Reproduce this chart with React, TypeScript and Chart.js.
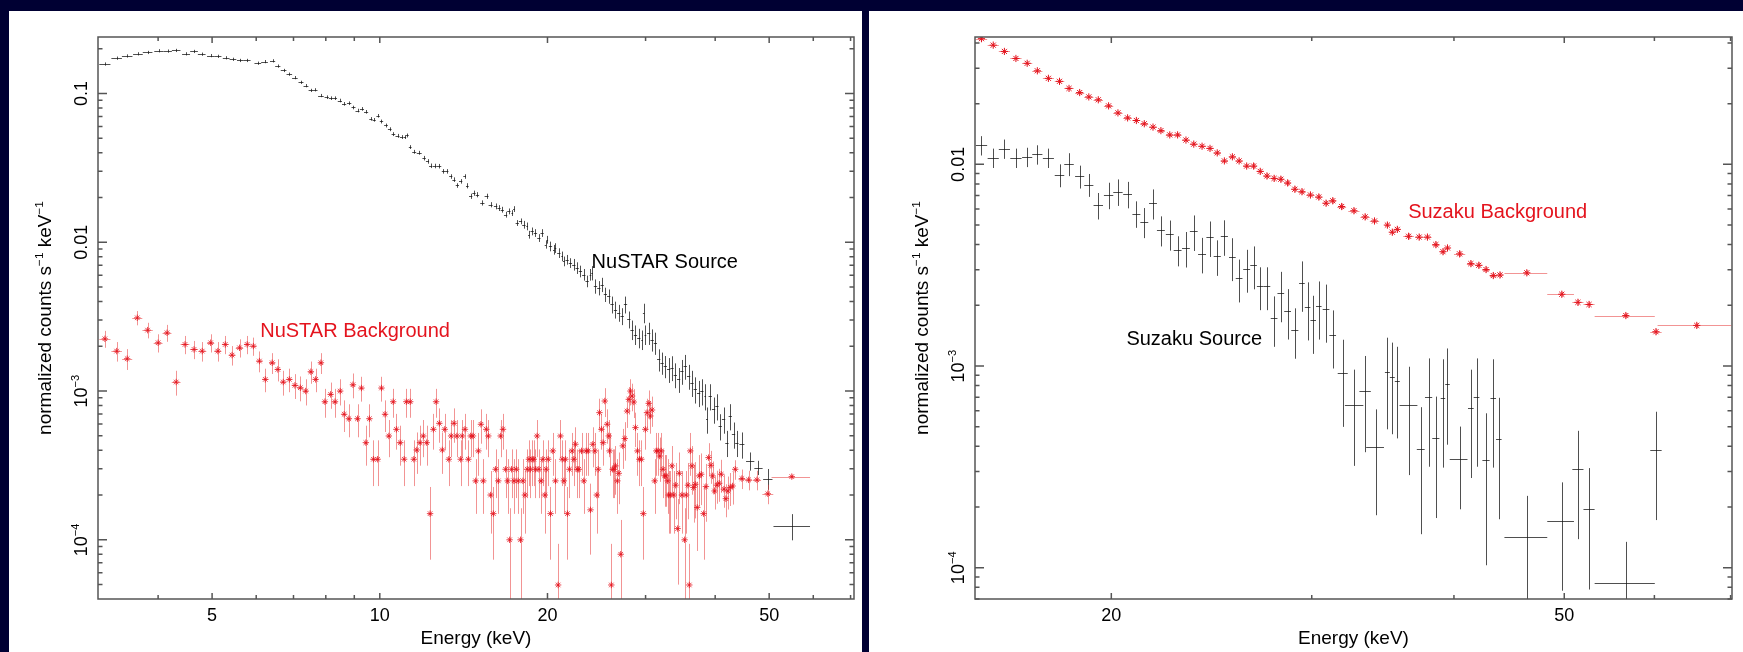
import React, { useEffect, useRef } from 'react';
import { Chart, registerables } from 'chart.js';

Chart.register(...registerables);

// ---------------- NuSTAR source (black) ----------------
const nustarSrcEnergy = [
  3.21, 3.37, 3.52, 3.68, 3.83, 4.01, 4.16, 4.31, 4.49, 4.64,
  4.79, 4.97, 5.12, 5.30, 5.45, 5.62, 5.78, 6.04, 6.21, 6.42,
  6.56, 6.72, 6.88, 7.04, 7.22, 7.37, 7.52, 7.66, 7.84, 8.03,
  8.17, 8.31, 8.48, 8.63, 8.81, 8.97, 9.12, 9.29, 9.45, 9.64,
  9.77, 9.93, 10.07, 10.26, 10.42, 10.58, 10.76, 10.94, 11.09, 11.21,
  11.34, 11.53, 11.77, 12.01, 12.18, 12.34, 12.55, 12.78, 13.01, 13.19,
  13.41, 13.59, 13.78, 13.97, 14.20, 14.36, 14.56, 14.76, 14.97, 15.28,
  15.55, 15.81,
  16.14, 16.37, 16.59, 16.82, 17.05, 17.29, 17.41, 17.65, 17.89, 18.14,
  18.39, 18.52, 18.77, 19.03, 19.30, 19.56, 19.84, 19.98, 20.25, 20.53,
  20.67, 20.96, 21.25, 21.40, 21.69, 21.99, 22.30, 22.61, 22.92, 23.24,
  23.56, 23.89, 24.05, 24.39, 24.73, 25.07, 25.41, 25.76, 26.12, 26.49,
  26.85, 27.23, 27.61, 27.99, 28.37, 28.77, 29.17, 29.57, 29.77, 29.98,
  30.39, 30.82, 31.24, 31.67, 32.11, 32.55, 33.00, 33.46, 33.92, 34.39,
  34.86, 35.35, 35.84, 36.34, 36.84, 37.35, 37.86, 38.39, 38.65, 39.19,
  39.73, 40.29, 40.84, 41.41, 41.99, 42.57, 43.15, 43.75, 44.67, 46.23,
  47.84, 49.72,
];
const nustarSrcValue = [
  0.158, 0.173, 0.179, 0.185, 0.189, 0.194, 0.193, 0.195, 0.185, 0.192,
  0.184, 0.180, 0.178, 0.174, 0.170, 0.167, 0.167, 0.160, 0.164, 0.166,
  0.153, 0.143, 0.135, 0.128, 0.119, 0.113, 0.105, 0.106, 0.097, 0.0945,
  0.0931, 0.0931, 0.0898, 0.0853, 0.0861, 0.0806, 0.0769, 0.0789, 0.0754, 0.0676,
  0.0666, 0.0709, 0.0649, 0.0610, 0.0576, 0.0534, 0.0520, 0.0510, 0.0510, 0.0523,
  0.0437, 0.0406, 0.0400, 0.0368, 0.0350, 0.0327, 0.0326, 0.0325, 0.0300, 0.0300,
  0.0277, 0.0264, 0.0241, 0.0257, 0.0277, 0.0240, 0.0204, 0.0214, 0.0209, 0.0184,
  0.0204, 0.0179,
  0.01745, 0.0170, 0.01658, 0.01535, 0.01615, 0.01574, 0.01674, 0.01349, 0.01384, 0.01314,
  0.01281, 0.01126, 0.01186, 0.01156, 0.01070, 0.01156, 0.00965, 0.01042, 0.00940, 0.00893,
  0.00917, 0.00848, 0.00806, 0.00746, 0.00765, 0.00727, 0.00709, 0.00673, 0.00639, 0.00607,
  0.00548, 0.00607, 0.00623, 0.00507, 0.00494, 0.00520, 0.00446, 0.00434, 0.00382, 0.00353,
  0.00336, 0.00319, 0.00382, 0.00303, 0.00259, 0.00240, 0.00228, 0.00222, 0.00336, 0.00240,
  0.00246, 0.00222, 0.00211, 0.00163, 0.00155, 0.00147, 0.00140, 0.00144, 0.00129, 0.00120,
  0.00136, 0.00147, 0.00126, 0.00114, 0.00103, 0.000975, 0.00100, 0.000926, 0.000646, 0.000926,
  0.000754, 0.000793, 0.000582, 0.000646, 0.000450, 0.000680, 0.000512, 0.000450, 0.000439, 0.000339,
  0.000306, 0.000258,
];
const nustarSrcRelErr = [
  0.025, 0.025, 0.025, 0.025, 0.025, 0.025, 0.025, 0.025, 0.025, 0.025,
  0.025, 0.025, 0.025, 0.025, 0.025, 0.025, 0.025, 0.025, 0.025, 0.025,
  0.025, 0.025, 0.025, 0.025, 0.025, 0.025, 0.025, 0.025, 0.025, 0.028,
  0.028, 0.028, 0.028, 0.028, 0.028, 0.028, 0.028, 0.028, 0.028, 0.028,
  0.028, 0.028, 0.03, 0.03, 0.03, 0.03, 0.03, 0.03, 0.03, 0.03,
  0.03, 0.03, 0.03, 0.035, 0.035, 0.035, 0.035, 0.035, 0.035, 0.035,
  0.035, 0.035, 0.035, 0.035, 0.035, 0.04, 0.04, 0.04, 0.04, 0.04,
  0.04, 0.04,
  0.045, 0.045, 0.045, 0.045, 0.045, 0.045, 0.045, 0.045, 0.045, 0.06,
  0.06, 0.06, 0.06, 0.06, 0.06, 0.06, 0.06, 0.06, 0.075, 0.075,
  0.075, 0.075, 0.075, 0.075, 0.075, 0.075, 0.09, 0.09, 0.09, 0.09,
  0.09, 0.09, 0.11, 0.11, 0.11, 0.11, 0.11, 0.11, 0.13, 0.13,
  0.13, 0.13, 0.13, 0.13, 0.15, 0.15, 0.15, 0.15, 0.15, 0.15,
  0.17, 0.17, 0.17, 0.17, 0.17, 0.17, 0.19, 0.19, 0.19, 0.19,
  0.19, 0.19, 0.19, 0.2, 0.2, 0.2, 0.2, 0.2, 0.2, 0.2,
  0.2, 0.2, 0.2, 0.2, 0.2, 0.2, 0.2, 0.2, 0.2, 0.14,
  0.11, 0.16,
];
const nustarSrcWideEnergy = [54.9];
const nustarSrcWideValue = [1.24e-4];
const nustarSrcWideLo = [50.9];
const nustarSrcWideHi = [59.2];
const nustarSrcWideRelErr = [0.2];

// ---------------- NuSTAR background (red) ----------------
const nustarBgEnergy = [
  3.21, 3.37, 3.52, 3.67, 3.83, 4.00, 4.15, 4.31, 4.47, 4.64,
  4.80, 4.97, 5.12, 5.28, 5.43, 5.60, 5.78, 5.93, 6.08, 6.23,
  6.41, 6.56, 6.71, 6.88, 7.04, 7.20, 7.36, 7.52, 7.67, 7.84,
  7.97, 8.16, 8.31, 8.49, 8.63, 8.80, 8.95, 9.12, 9.27, 9.44,
  9.58, 9.74, 9.91, 10.07, 10.22, 10.38, 10.57, 10.71, 10.88, 11.06,
  11.16, 11.34, 11.51, 11.65, 11.81, 11.97, 12.14, 12.31, 12.48, 12.62,
  12.79, 12.95, 13.08, 13.30, 13.43, 13.59, 13.75,
  13.97, 14.06, 14.22, 14.42, 14.56, 14.70, 14.86, 15.03, 15.19, 15.34,
  15.53, 15.66, 15.81, 15.99, 16.14, 16.32, 16.48, 16.64, 16.82, 16.96,
  17.10, 17.24, 17.41, 17.58, 17.72, 17.89, 18.07, 18.22, 18.39, 18.52,
  18.64, 18.77, 18.90, 19.03, 19.16, 19.30, 19.48, 19.62, 19.78, 19.89,
  20.06, 20.25, 20.45, 20.67, 20.90, 21.10, 21.25, 21.40, 21.54, 21.72,
  21.90, 22.14, 22.30, 22.45, 22.61, 22.76, 23.02, 23.24, 23.47, 23.66,
  23.89, 24.12, 24.32, 24.52, 24.66, 24.79, 25.00, 25.17, 25.34, 25.59,
  25.76, 25.85, 26.04, 26.19, 26.34, 26.49, 26.70, 26.85, 27.07, 27.30,
  27.53, 27.79, 27.99, 28.18, 28.37, 28.57, 28.77, 29.01, 29.24, 29.48,
  29.72, 29.97, 30.18, 30.39, 30.60, 30.81, 31.15, 31.36, 31.58, 31.80,
  32.02, 32.24, 32.46, 32.64, 32.86, 33.00, 33.22, 33.45, 33.69, 33.97,
  34.25, 34.48, 34.86, 35.25, 35.49, 35.74, 35.94, 36.09, 36.34, 36.58,
  36.84, 37.14, 37.45, 37.76, 38.13, 38.50, 38.92, 39.29, 39.57, 39.90,
  40.29, 40.67, 41.01, 41.47, 41.81, 42.16, 42.57, 42.98, 43.46, 44.67,
  45.92, 47.53, 49.72,
];
const nustarBgValue = [
  0.002246, 0.001856, 0.001650, 0.003108, 0.002568, 0.002112, 0.002464, 0.001150, 0.002058, 0.001905,
  0.001856, 0.002112, 0.001856, 0.002058, 0.001745, 0.001954, 0.002058, 0.002006, 0.001591, 0.001198,
  0.001550, 0.001398, 0.001150, 0.001198, 0.001092, 0.001053, 0.001000, 0.001349, 0.001198, 0.001550,
  0.000848, 0.000950, 0.000848, 0.001000, 0.000698, 0.000652, 0.001103, 0.000652, 0.001048, 0.000450,
  0.000652, 0.000348, 0.000348, 0.001048, 0.000698, 0.000499, 0.000848, 0.000553, 0.000450, 0.000348,
  0.000848, 0.000848, 0.000348, 0.000402, 0.000450, 0.000499, 0.000450, 0.000150, 0.000553, 0.000848,
  0.000607, 0.000402, 0.000553, 0.000348, 0.000499, 0.000607, 0.000499,
  3.48e-4, 4.99e-4, 5.53e-4, 3.48e-4, 4.99e-4, 4.99e-4, 2.49e-4, 3.96e-4, 5.98e-4, 2.49e-4,
  5.53e-4, 4.99e-4, 2.00e-4, 1.50e-4, 2.98e-4, 2.49e-4, 4.99e-4, 5.53e-4, 2.98e-4, 2.49e-4,
  1.0e-4, 2.98e-4, 2.49e-4, 2.98e-4, 2.49e-4, 1.0e-4, 2.49e-4, 2.00e-4, 2.98e-4, 3.48e-4,
  2.98e-4, 3.48e-4, 3.48e-4, 2.98e-4, 4.99e-4, 2.98e-4, 2.49e-4, 3.48e-4, 2.00e-4, 2.98e-4,
  3.48e-4, 1.50e-4, 3.96e-4, 2.49e-4, 4.97e-5, 4.99e-4, 3.48e-4, 2.49e-4, 3.48e-4, 1.50e-4,
  2.98e-4, 3.96e-4, 3.48e-4, 4.39e-4, 2.98e-4, 2.98e-4, 3.96e-4, 2.49e-4, 3.96e-4, 3.96e-4,
  1.59e-4, 4.39e-4, 3.96e-4, 2.00e-4, 2.98e-4, 7.16e-4, 5.53e-4, 4.50e-4, 8.57e-4, 5.98e-4,
  4.99e-4, 3.96e-4, 4.97e-5, 2.98e-4, 2.98e-4, 3.14e-4, 2.49e-4, 2.80e-4, 8.0e-5, 4.28e-4,
  4.79e-4, 7.34e-4, 8.80e-4, 1.0e-3, 9.26e-4, 8.44e-4, 5.68e-4, 3.96e-4, 3.48e-4, 3.48e-4,
  1.50e-4, 5.53e-4, 7.16e-4, 8.27e-4, 6.80e-4, 7.46e-4, 2.49e-4, 3.96e-4, 3.96e-4, 3.66e-4,
  3.96e-4, 2.98e-4, 2.69e-4, 2.69e-4, 2.49e-4, 2.00e-4, 2.00e-4, 3.14e-4, 2.00e-4, 2.33e-4,
  1.19e-4, 2.80e-4, 2.00e-4, 1.0e-4, 2.00e-4, 2.33e-4, 4.97e-5, 3.96e-4, 3.14e-4, 2.25e-4,
  2.36e-4, 1.65e-4, 2.69e-4, 2.76e-4, 1.50e-4, 2.28e-4, 3.57e-4, 3.17e-4, 2.69e-4, 2.13e-4,
  2.33e-4, 2.40e-4, 2.76e-4, 2.19e-4, 1.89e-4, 2.13e-4, 2.25e-4, 2.30e-4, 2.98e-4, 2.58e-4,
  2.53e-4, 2.53e-4, 2.04e-4,
];
const nustarBgRelErr = [
  0.13, 0.15, 0.16, 0.11, 0.12, 0.14, 0.13, 0.19, 0.14, 0.14,
  0.15, 0.14, 0.15, 0.14, 0.15, 0.14, 0.14, 0.14, 0.16, 0.18,
  0.16, 0.17, 0.19, 0.18, 0.19, 0.19, 0.20, 0.17, 0.18, 0.16,
  0.22, 0.20, 0.22, 0.20, 0.24, 0.25, 0.19, 0.25, 0.19, 0.30,
  0.25, 0.34, 0.34, 0.19, 0.24, 0.28, 0.22, 0.27, 0.30, 0.34,
  0.22, 0.22, 0.34, 0.31, 0.30, 0.28, 0.30, 0.51, 0.27, 0.22,
  0.26, 0.31, 0.27, 0.34, 0.28, 0.26, 0.28,
  0.34, 0.28, 0.27, 0.34, 0.28, 0.28, 0.40, 0.32, 0.26, 0.40,
  0.27, 0.28, 0.45, 0.51, 0.36, 0.40, 0.28, 0.27, 0.36, 0.40,
  0.63, 0.36, 0.40, 0.36, 0.40, 0.63, 0.40, 0.45, 0.36, 0.34,
  0.36, 0.34, 0.34, 0.36, 0.28, 0.36, 0.40, 0.34, 0.45, 0.36,
  0.34, 0.51, 0.32, 0.40, 0.89, 0.28, 0.34, 0.40, 0.34, 0.51,
  0.36, 0.32, 0.34, 0.30, 0.36, 0.36, 0.32, 0.40, 0.32, 0.32,
  0.50, 0.30, 0.32, 0.45, 0.36, 0.24, 0.27, 0.30, 0.22, 0.26,
  0.28, 0.32, 0.89, 0.36, 0.36, 0.36, 0.40, 0.38, 0.70, 0.30,
  0.29, 0.23, 0.21, 0.20, 0.21, 0.22, 0.26, 0.32, 0.34, 0.34,
  0.51, 0.27, 0.24, 0.22, 0.24, 0.23, 0.40, 0.32, 0.32, 0.33,
  0.32, 0.36, 0.38, 0.38, 0.40, 0.45, 0.45, 0.36, 0.45, 0.41,
  0.58, 0.38, 0.45, 0.63, 0.45, 0.41, 0.89, 0.32, 0.36, 0.42,
  0.41, 0.49, 0.38, 0.38, 0.51, 0.42, 0.25, 0.25, 0.25, 0.25,
  0.25, 0.25, 0.25, 0.25, 0.25, 0.25, 0.25, 0.25, 0.15, 0.15,
  0.15, 0.15, 0.15,
];
const nustarBgWideEnergy = [54.9];
const nustarBgWideValue = [2.66e-4];
const nustarBgWideLo = [50.5];
const nustarBgWideHi = [59.2];
const nustarBgWideRelErr = [0.03];

// ---------------- Suzaku background (red) ----------------
const suzakuBgEnergy = [
  15.38, 15.75, 16.11, 16.49, 16.87, 17.22, 17.61, 18.01, 18.36, 18.76,
  19.11, 19.48, 19.89, 20.27, 20.67, 21.04, 21.38, 21.76, 22.11, 22.51,
  22.87, 23.26, 23.63, 24.03, 24.42, 24.78, 25.14, 25.55, 25.90, 26.30,
  26.67, 27.03, 27.40, 27.80, 28.18, 28.57, 28.99, 29.41, 29.92, 30.43,
  30.88, 31.30, 31.87, 32.67, 33.42, 34.06, 34.96, 35.31, 35.67, 36.49,
  37.28, 37.91, 38.56, 39.12, 39.48, 40.46, 41.39, 42.06, 42.68, 43.31,
  43.90, 51.40, 52.57, 60.19,
];
const suzakuBgValue = [
  0.0420, 0.0390, 0.0363, 0.0335, 0.0317, 0.0291, 0.0267, 0.0258, 0.0238, 0.0227,
  0.0216, 0.0209, 0.0195, 0.0180, 0.0170, 0.0165, 0.0159, 0.0153, 0.0147, 0.0140,
  0.0140, 0.0132, 0.0126, 0.0123, 0.0120, 0.0114, 0.0104, 0.0109, 0.0104, 0.00981,
  0.00981, 0.00923, 0.00876, 0.00852, 0.00844, 0.00809, 0.00753, 0.00732, 0.00705, 0.00689,
  0.00642, 0.00660, 0.00618, 0.00589, 0.00549, 0.00524, 0.00500, 0.00461, 0.00476, 0.00440,
  0.00436, 0.00436, 0.00400, 0.00369, 0.00385, 0.00360, 0.00322, 0.00316, 0.00301, 0.00281,
  0.00283, 0.00207, 0.00202, 0.00148,
];
const suzakuBgRelErr = [
  0.02, 0.02, 0.02, 0.02, 0.02, 0.02, 0.02, 0.02, 0.02, 0.02,
  0.02, 0.02, 0.02, 0.02, 0.02, 0.02, 0.02, 0.02, 0.02, 0.02,
  0.02, 0.02, 0.02, 0.02, 0.02, 0.02, 0.02, 0.02, 0.02, 0.02,
  0.035, 0.035, 0.035, 0.035, 0.035, 0.035, 0.035, 0.035, 0.035, 0.035,
  0.035, 0.035, 0.035, 0.035, 0.035, 0.035, 0.035, 0.035, 0.035, 0.035,
  0.035, 0.035, 0.035, 0.035, 0.035, 0.035, 0.035, 0.035, 0.035, 0.035,
  0.035, 0.035, 0.035, 0.035,
];
const suzakuBgWideEnergy = [46.35, 49.75, 56.63, 65.37];
const suzakuBgWideValue = [0.00290, 0.00227, 0.00178, 0.00159];
const suzakuBgWideLo = [44.30, 48.31, 53.17, 60.39];
const suzakuBgWideHi = [48.31, 50.99, 60.05, 70.1];
const suzakuBgWideRelErr = [0.03, 0.03, 0.03, 0.03];

// ---------------- Suzaku source (black) ----------------
const suzakuSrcEnergy = [
  15.38, 15.75, 16.11, 16.49, 16.87, 17.22, 17.61, 18.01, 18.36, 18.76,
  19.11, 19.48, 19.89, 20.27, 20.67, 21.04, 21.38, 21.76, 22.11, 22.51,
  22.87, 23.26, 23.63, 24.03, 24.42, 24.78, 25.14, 25.55, 25.90, 26.30,
  26.67, 27.03, 27.40, 27.80, 28.18, 28.57, 28.99, 29.41, 29.75, 30.09,
  30.43, 30.88, 31.30, 31.94, 33.42, 34.96, 35.31, 35.67, 37.40, 38.00,
  38.56, 39.12, 39.48, 41.39, 41.87, 42.68, 43.31, 43.80, 51.40, 52.57,
  60.19,
];
const suzakuSrcValue = [
  0.01243, 0.01078, 0.01196, 0.01078, 0.01089, 0.01120, 0.01078, 0.00885, 0.01005, 0.00872,
  0.00793, 0.00627, 0.00705, 0.00732, 0.00712, 0.00570, 0.00519, 0.00642, 0.00472, 0.00450,
  0.00376, 0.00385, 0.00465, 0.00360, 0.00434, 0.00350, 0.00440, 0.00347, 0.00272, 0.00304,
  0.00316, 0.00249, 0.00249, 0.00173, 0.00229, 0.00188, 0.00151, 0.00258, 0.00197, 0.00169,
  0.00199, 0.00192, 0.00143, 0.000925, 0.000748, 0.000934, 0.000883, 0.000842, 0.000386, 0.000704,
  0.000441, 0.000697, 0.000815, 0.000619, 0.000704, 0.000343, 0.000697, 0.000435, 0.000308, 0.000195,
  0.000383,
];
const suzakuSrcRelErr = [
  0.11, 0.11, 0.11, 0.11, 0.11, 0.11, 0.11, 0.13, 0.13, 0.13,
  0.13, 0.15, 0.15, 0.15, 0.15, 0.15, 0.17, 0.17, 0.17, 0.17,
  0.17, 0.2, 0.2, 0.2, 0.2, 0.2, 0.2, 0.24, 0.24, 0.24,
  0.24, 0.24, 0.24, 0.28, 0.28, 0.28, 0.28, 0.28, 0.32, 0.32,
  0.32, 0.32, 0.32, 0.46, 0.5, 0.48, 0.48, 0.48, 0.62, 0.55,
  0.6, 0.55, 0.5, 0.55, 0.55, 0.7, 0.55, 0.6, 0.55, 0.6,
  0.55,
];
const suzakuSrcWideEnergy = [32.67, 34.18, 36.49, 40.46, 46.35, 49.75, 56.63];
const suzakuSrcWideValue = [0.000640, 0.000396, 0.000640, 0.000348, 0.000142, 0.000171, 0.0000840];
const suzakuSrcWideLo = [32.08, 33.49, 35.83, 39.66, 44.30, 48.31, 53.17];
const suzakuSrcWideHi = [33.30, 34.72, 37.15, 41.11, 48.31, 50.99, 60.05];
const suzakuSrcWideRelErr = [0.5, 0.54, 0.55, 0.44, 0.6, 0.55, 0.6];

// ---------------- axes ----------------
const leftXRange = [3.12, 71.0];
const leftYRange = [4.0e-5, 0.24];
const leftXMajor = [5, 10, 20, 50];
const leftXMinor = [4, 6, 7, 8, 9, 30, 40, 60, 70];
const leftYMajor = [0.1, 0.01, 0.001, 0.0001];
const leftYLabels = [['0.1'], ['0.01'], ['10', '\u22123'], ['10', '\u22124']];

const rightXRange = [15.18, 70.2];
const rightYRange = [7.17e-5, 0.0428];
const rightXMajor = [20, 50];
const rightXMinor = [30, 40, 60, 70];
const rightYMajor = [0.01, 0.001, 0.0001];
const rightYLabels = [['0.01'], ['10', '\u22123'], ['10', '\u22124']];

const NAVY = '#000033';
const RED = 'rgb(228,20,30)';
const RED_BAR = 'rgba(232,60,60,0.55)';
const BLACK_BAR = 'rgba(20,20,20,0.75)';
const AXIS = '#555';
const FONT = '"Liberation Sans", Arial, Helvetica, sans-serif';

type Part = { t: string; sup?: boolean };

function drawRich(ctx: CanvasRenderingContext2D, parts: Part[], cx: number, cy: number, rot: number, size: number, color: string) {
  ctx.save();
  ctx.translate(cx, cy);
  ctx.rotate(rot);
  ctx.fillStyle = color;
  ctx.textBaseline = 'alphabetic';
  ctx.textAlign = 'left';
  const supSize = size * 0.62;
  const widths = parts.map((p) => {
    ctx.font = `${p.sup ? supSize : size}px ${FONT}`;
    return ctx.measureText(p.t).width;
  });
  const total = widths.reduce((a, b) => a + b, 0);
  const cap = size * 0.716;
  let x = -total / 2;
  parts.forEach((p, i) => {
    ctx.font = `${p.sup ? supSize : size}px ${FONT}`;
    ctx.fillText(p.t, x, p.sup ? cap / 2 - size * 0.42 : cap / 2);
    x += widths[i];
  });
  ctx.restore();
}

const errorBarPlugin = {
  id: 'errbars',
  beforeDatasetsDraw(chart: any) {
    const { ctx, chartArea: a, scales } = chart;
    const xs = scales.x;
    const ys = scales.y;
    ctx.save();
    ctx.beginPath();
    ctx.rect(a.left, a.top, a.right - a.left, a.bottom - a.top);
    ctx.clip();
    chart.data.datasets.forEach((ds: any) => {
      const eb = ds.errorBars;
      if (!eb) return;
      const { e, v, rel, lo, hi, color, cap } = eb;
      ctx.strokeStyle = color;
      ctx.lineWidth = 1;
      ctx.beginPath();
      for (let i = 0; i < e.length; i++) {
        let xl: number;
        let xh: number;
        if (lo && hi) {
          xl = lo[i];
          xh = hi[i];
        } else {
          const l = Math.log10(e[i]);
          let d = Infinity;
          if (i > 0) d = Math.min(d, l - Math.log10(e[i - 1]));
          if (i < e.length - 1) d = Math.min(d, Math.log10(e[i + 1]) - l);
          const hw = Math.min(d / 2, cap);
          xl = Math.pow(10, l - hw);
          xh = Math.pow(10, l + hw);
        }
        const px = Math.round(xs.getPixelForValue(e[i])) + 0.5;
        const py = Math.round(ys.getPixelForValue(v[i])) + 0.5;
        const yLow = v[i] * (1 - rel[i]);
        const pyl = yLow > 0 ? ys.getPixelForValue(yLow) : a.bottom + 10;
        const pyh = ys.getPixelForValue(v[i] * (1 + rel[i]));
        ctx.moveTo(xs.getPixelForValue(xl), py);
        ctx.lineTo(xs.getPixelForValue(xh), py);
        ctx.moveTo(px, pyl);
        ctx.lineTo(px, pyh);
      }
      ctx.stroke();
    });
    ctx.restore();
  },
};

type Note = { text: string; e: number; v: number; color: string };
type FrameCfg = {
  xMajor: number[];
  xMinor: number[];
  yMajor: number[];
  yLabels: string[][];
  notes: Note[];
};

function makeFramePlugin(cfg: FrameCfg) {
  return {
    id: 'frame',
    afterDraw(chart: any) {
      const { ctx, chartArea: a, scales } = chart;
      const xs = scales.x;
      const ys = scales.y;
      ctx.save();
      cfg.notes.forEach((n) => {
        ctx.font = `20px ${FONT}`;
        ctx.fillStyle = n.color;
        ctx.textAlign = 'left';
        ctx.textBaseline = 'alphabetic';
        ctx.fillText(n.text, xs.getPixelForValue(n.e), ys.getPixelForValue(n.v));
      });
      ctx.strokeStyle = AXIS;
      ctx.lineWidth = 1.5;
      ctx.strokeRect(a.left, a.top, a.right - a.left, a.bottom - a.top);
      ctx.beginPath();
      const xt = (val: number, len: number) => {
        if (val <= xs.min || val >= xs.max) return;
        const px = xs.getPixelForValue(val);
        ctx.moveTo(px, a.bottom);
        ctx.lineTo(px, a.bottom - len);
        ctx.moveTo(px, a.top);
        ctx.lineTo(px, a.top + len);
      };
      const yt = (val: number, len: number) => {
        if (val <= ys.min || val >= ys.max) return;
        const py = ys.getPixelForValue(val);
        ctx.moveTo(a.left, py);
        ctx.lineTo(a.left + len, py);
        ctx.moveTo(a.right, py);
        ctx.lineTo(a.right - len, py);
      };
      cfg.xMajor.forEach((t) => xt(t, 6));
      cfg.xMinor.forEach((t) => xt(t, 4));
      cfg.yMajor.forEach((t) => yt(t, 9));
      const d0 = Math.floor(Math.log10(ys.min));
      const d1 = Math.ceil(Math.log10(ys.max));
      for (let d = d0; d <= d1; d++) {
        for (let m = 2; m <= 9; m++) yt(m * Math.pow(10, d), 4.5);
      }
      ctx.stroke();
      ctx.fillStyle = '#000';
      ctx.font = `18px ${FONT}`;
      ctx.textAlign = 'center';
      ctx.textBaseline = 'alphabetic';
      cfg.xMajor.forEach((t) => {
        ctx.fillText(String(t), xs.getPixelForValue(t), a.bottom + 21.5);
      });
      cfg.yMajor.forEach((t, i) => {
        const lab = cfg.yLabels[i];
        const parts: Part[] = lab.length > 1 ? [{ t: lab[0] }, { t: lab[1], sup: true }] : [{ t: lab[0] }];
        drawRich(ctx, parts, a.left - 17.5, ys.getPixelForValue(t), -Math.PI / 2, 18, '#000');
      });
      drawRich(ctx, [{ t: 'Energy (keV)' }], (a.left + a.right) / 2, a.bottom + 38.5, 0, 19, '#000');
      drawRich(
        ctx,
        [
          { t: 'normalized counts s' },
          { t: '\u22121', sup: true },
          { t: ' keV' },
          { t: '\u22121', sup: true },
        ],
        a.left - 54,
        (a.top + a.bottom) / 2,
        -Math.PI / 2,
        19,
        '#000'
      );
      ctx.restore();
    },
  };
}

function pts(e: number[], v: number[]) {
  return e.map((x, i) => ({ x, y: v[i] }));
}

function blackSet(e: number[], v: number[], rel: number[], cap: number, lo?: number[], hi?: number[]) {
  return {
    data: pts(e, v),
    pointRadius: 0,
    pointHoverRadius: 0,
    borderColor: '#000',
    backgroundColor: '#000',
    showLine: false,
    errorBars: { e, v, rel, lo, hi, color: BLACK_BAR, cap },
  };
}

function redSet(e: number[], v: number[], rel: number[], cap: number, radius: number, width: number, lo?: number[], hi?: number[]) {
  return {
    data: pts(e, v),
    pointStyle: 'star',
    pointRadius: radius,
    pointHoverRadius: radius,
    borderColor: RED,
    backgroundColor: RED,
    borderWidth: width,
    showLine: false,
    errorBars: { e, v, rel, lo, hi, color: RED_BAR, cap },
  };
}

function makeConfig(datasets: any[], xr: number[], yr: number[], pad: any, frame: FrameCfg) {
  return {
    type: 'scatter' as const,
    data: { datasets },
    options: {
      animation: false,
      responsive: false,
      maintainAspectRatio: false,
      devicePixelRatio: 1,
      events: [],
      layout: { padding: pad },
      scales: {
        x: { type: 'logarithmic', min: xr[0], max: xr[1], display: false },
        y: { type: 'logarithmic', min: yr[0], max: yr[1], display: false },
      },
      plugins: { legend: { display: false }, tooltip: { enabled: false } },
    },
    plugins: [errorBarPlugin, makeFramePlugin(frame)],
  };
}

export default function App() {
  const leftRef = useRef<HTMLCanvasElement>(null);
  const rightRef = useRef<HTMLCanvasElement>(null);

  useEffect(() => {
    const leftCfg: any = makeConfig(
      [
        blackSet(nustarSrcEnergy, nustarSrcValue, nustarSrcRelErr, 0.01),
        blackSet(nustarSrcWideEnergy, nustarSrcWideValue, nustarSrcWideRelErr, 0.01, nustarSrcWideLo, nustarSrcWideHi),
        redSet(nustarBgEnergy, nustarBgValue, nustarBgRelErr, 0.01, 3.2, 0.8),
        redSet(nustarBgWideEnergy, nustarBgWideValue, nustarBgWideRelErr, 0.01, 3.2, 0.8, nustarBgWideLo, nustarBgWideHi),
      ],
      leftXRange,
      leftYRange,
      { left: 89, top: 26, right: 8, bottom: 53 },
      {
        xMajor: leftXMajor,
        xMinor: leftXMinor,
        yMajor: leftYMajor,
        yLabels: leftYLabels,
        notes: [
          { text: 'NuSTAR Source', e: 24.0, v: 0.00676, color: '#000' },
          { text: 'NuSTAR Background', e: 6.1, v: 0.00231, color: RED },
        ],
      }
    );
    const rightCfg: any = makeConfig(
      [
        blackSet(suzakuSrcEnergy, suzakuSrcValue, suzakuSrcRelErr, 0.005),
        blackSet(suzakuSrcWideEnergy, suzakuSrcWideValue, suzakuSrcWideRelErr, 0.005, suzakuSrcWideLo, suzakuSrcWideHi),
        redSet(suzakuBgEnergy, suzakuBgValue, suzakuBgRelErr, 0.005, 3.6, 1),
        redSet(suzakuBgWideEnergy, suzakuBgWideValue, suzakuBgWideRelErr, 0.005, 3.6, 1, suzakuBgWideLo, suzakuBgWideHi),
      ],
      rightXRange,
      rightYRange,
      { left: 106, top: 26, right: 11, bottom: 53 },
      {
        xMajor: rightXMajor,
        xMinor: rightXMinor,
        yMajor: rightYMajor,
        yLabels: rightYLabels,
        notes: [
          { text: 'Suzaku Background', e: 36.46, v: 0.00541, color: RED },
          { text: 'Suzaku Source', e: 20.62, v: 0.001278, color: '#000' },
        ],
      }
    );
    const c1 = new Chart(leftRef.current as HTMLCanvasElement, leftCfg);
    const c2 = new Chart(rightRef.current as HTMLCanvasElement, rightCfg);
    return () => {
      c1.destroy();
      c2.destroy();
    };
  }, []);

  return (
    <div
      style={{
        position: 'fixed',
        left: 0,
        top: 0,
        width: 1743,
        height: 652,
        background: NAVY,
        overflow: 'hidden',
      }}
    >
      <div style={{ position: 'absolute', left: 9, top: 11, width: 853, height: 641, background: '#fff' }}>
        <canvas ref={leftRef} width={853} height={641} style={{ display: 'block' }} />
      </div>
      <div style={{ position: 'absolute', left: 869, top: 11, width: 874, height: 641, background: '#fff' }}>
        <canvas ref={rightRef} width={874} height={641} style={{ display: 'block' }} />
      </div>
    </div>
  );
}
